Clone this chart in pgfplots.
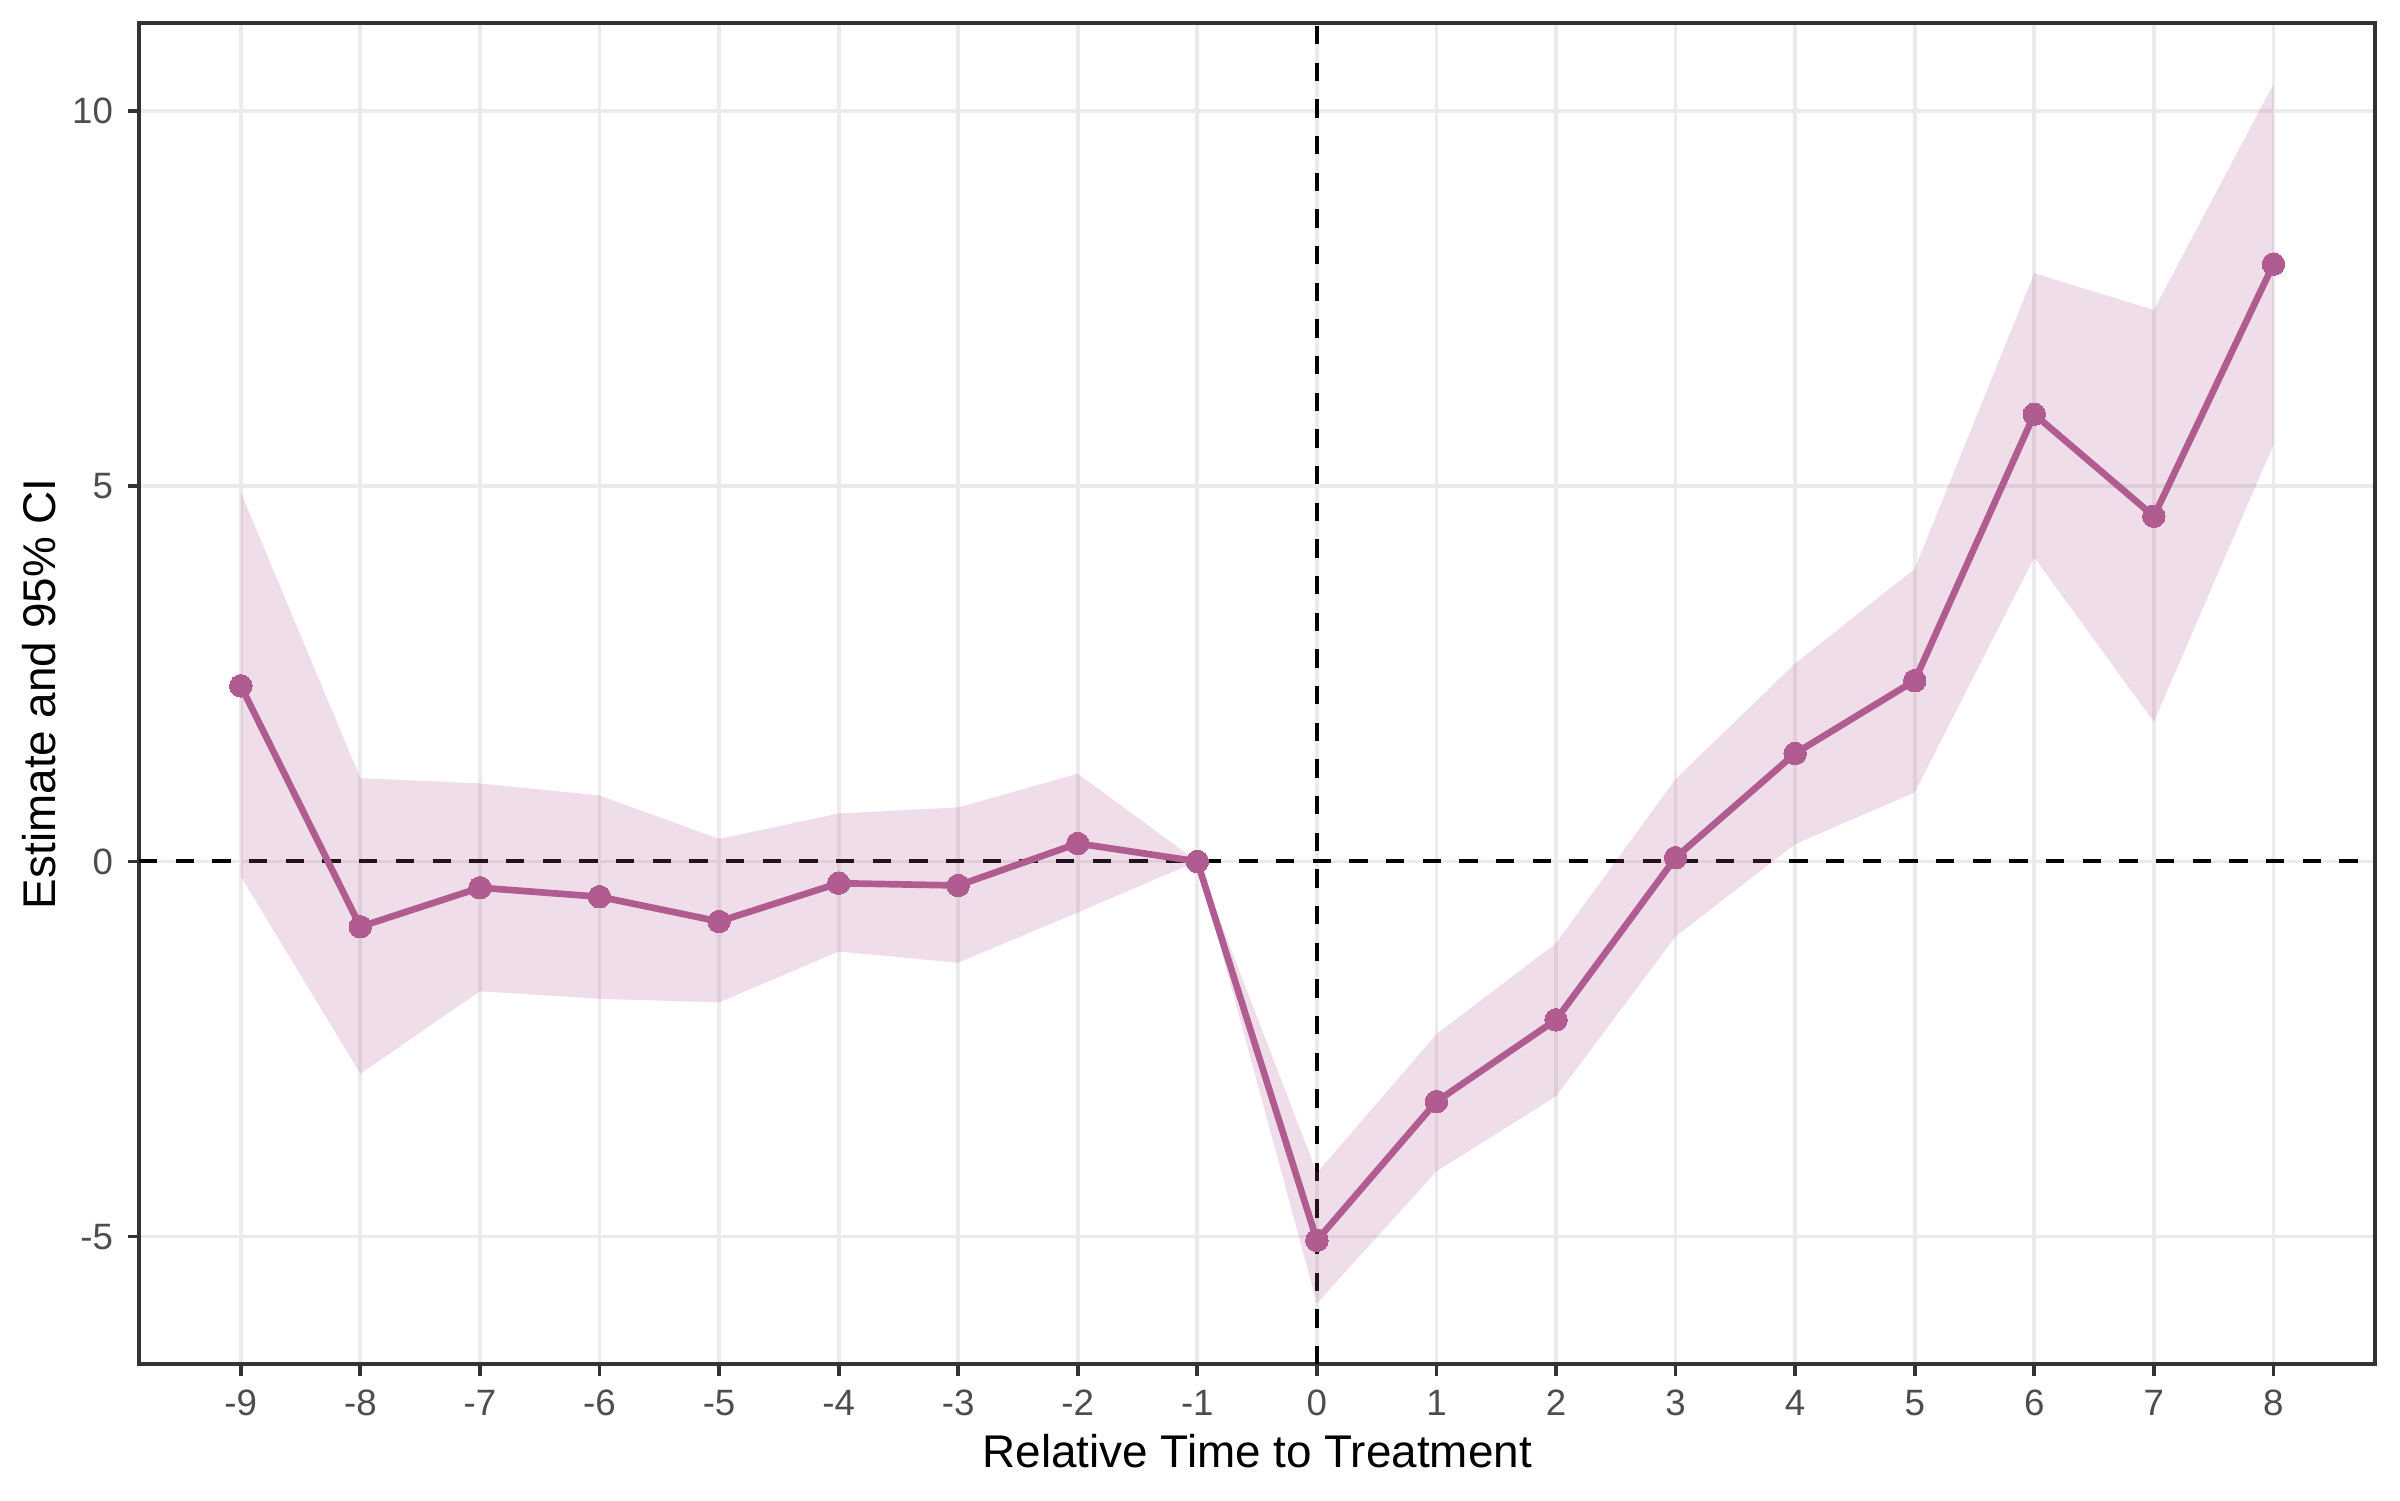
\documentclass[border=0pt]{standalone}
\usepackage{fontspec}
\setmainfont{Liberation Sans}
\usepackage{pgfplots}
\usepackage{pgfplotstable}
\pgfplotsset{compat=1.18}
\definecolor{est}{HTML}{B05C90}
\definecolor{gridc}{HTML}{EBEBEB}
\definecolor{tickc}{HTML}{4D4D4D}
\definecolor{borderc}{HTML}{333333}
\pgfplotstableread{
x est
-9 2.34
-8 -0.87
-7 -0.35
-6 -0.47
-5 -0.80
-4 -0.29
-3 -0.32
-2 0.24
-1 0.00
0 -5.05
1 -3.20
2 -2.11
3 0.05
4 1.44
5 2.41
6 5.96
7 4.60
8 7.96
}\esttable
% 95% CI band: upper bounds from -9 to 8, then lower bounds from 8 back to -9
\pgfplotstableread{
x y
-9 4.92
-8 1.11
-7 1.04
-6 0.88
-5 0.30
-4 0.64
-3 0.72
-2 1.17
-1 0.00
0 -4.15
1 -2.30
2 -1.09
3 1.10
4 2.64
5 3.90
6 7.84
7 7.35
8 10.36
8 5.55
7 1.86
6 4.05
5 0.92
4 0.23
3 -1.00
2 -3.13
1 -4.13
0 -5.89
-1 0.00
-2 -0.68
-3 -1.35
-4 -1.20
-5 -1.88
-6 -1.83
-7 -1.73
-8 -2.83
-9 -0.20
}\bandtable
\begin{document}
\begin{tikzpicture}
\path (0,0) rectangle (576pt,360pt);
\begin{axis}[
  at={(33.4pt,32.6pt)}, anchor=south west,
  scale only axis, width=536.6pt, height=321.8pt,
  xmin=-9.85, xmax=8.85, ymin=-6.70, ymax=11.17,
  xtick={-9,...,8}, ytick={-5,0,5,10},
  grid=major, major grid style={gridc, line width=0.9pt},
  axis line style={borderc, line width=0.9pt},
  tick align=outside, major tick length=2.75pt,
  tick style={borderc, line width=0.9pt},
  xtick pos=bottom, ytick pos=left,
  ticklabel style={font=\fontsize{8.8}{10}\selectfont, text=tickc},
  /pgf/number format/assume math mode=true,
  xlabel={Relative Time to Treatment},
  ylabel={Estimate and 95\% CI},
  label style={font=\fontsize{11}{13}\selectfont, text=black},
  xlabel style={yshift=2.5pt},
  ylabel style={yshift=-3pt},
]
\addplot[black, line width=0.95pt, dash pattern=on 4.4pt off 4.4pt] coordinates {(-9.85,0) (8.85,0)};
\addplot[black, line width=0.95pt, dash pattern=on 4.4pt off 4.4pt] coordinates {(0,-6.70) (0,11.17)};
\addplot[fill=est, fill opacity=0.2, draw=none] table[x=x, y=y] {\bandtable} -- cycle;
\addplot[est, line width=1.6pt, mark=*, mark size=2.7pt, mark options={fill=est, draw=est, line width=0pt}] table[x=x, y=est] {\esttable};
\end{axis}
\end{tikzpicture}
\end{document}
